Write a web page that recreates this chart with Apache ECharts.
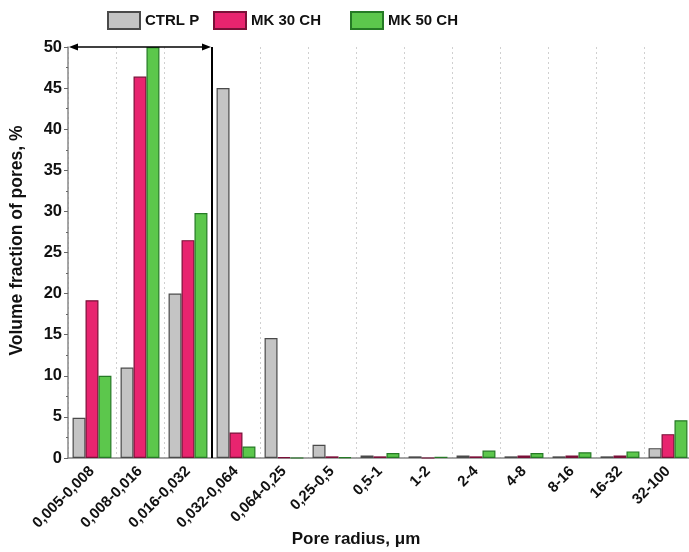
<!DOCTYPE html>
<html>
<head>
<meta charset="utf-8">
<script src="https://cdn.jsdelivr.net/npm/echarts@6/dist/echarts.min.js"></script>
<style>
  html, body { margin: 0; padding: 0; background: #fff; }
  #chart { width: 689px; height: 552px; }
</style>
</head>
<body>
<div id="chart"></div>
<script>
// pore radius classes, um
var categories = ['0,005-0,008', '0,008-0,016', '0,016-0,032', '0,032-0,064', '0,064-0,25', '0,25-0,5', '0,5-1', '1-2', '2-4', '4-8', '8-16', '16-32', '32-100'];
// volume fraction of pores, %
var ctrlP = [4.9, 11.0, 20.0, 45.0, 14.6, 1.6, 0.3, 0.2, 0.3, 0.2, 0.2, 0.2, 1.2];
var mk30 = [19.2, 46.4, 26.5, 3.1, 0.1, 0.2, 0.2, 0, 0.2, 0.3, 0.3, 0.3, 2.9];
var mk50 = [10.0, 50.0, 29.8, 1.4, 0, 0.1, 0.6, 0.15, 0.9, 0.6, 0.7, 0.8, 4.6];
var yTicks = [0, 50, 5];

var font = "'Liberation Sans', Arial, sans-serif";
var chart = echarts.init(document.getElementById('chart'));

function bar(name, data, color, border) {
    return {
        name: name,
        type: 'bar',
        data: data,
        barGap: '0%',
        barCategoryGap: '19%',
        itemStyle: { color: color, borderColor: border, borderWidth: 1.2 }
    };
}

function legendAt(name, left) {
    return {
        data: [name],
        left: left,
        top: 6,
        itemWidth: 32,
        itemHeight: 17,
        icon: 'rect',
        textStyle: { fontFamily: font, fontWeight: 'bold', fontSize: 15, color: '#111' }
    };
}

chart.setOption({
    animation: false,
    legend: [legendAt('CTRL P', 102), legendAt('MK 30 CH', 208), legendAt('MK 50 CH', 345)],
    grid: { left: 68, top: 47, bottom: 94, width: 624, outerBoundsMode: 'none', containLabel: false },
    xAxis: {
        type: 'category',
        data: categories,
        name: 'Pore radius, \u03bcm',
        nameLocation: 'middle',
        nameGap: 73,
        nameMoveOverlap: false,
        nameTextStyle: { fontFamily: font, fontWeight: 'bold', fontSize: 17, color: '#111', padding: [0, 48, 0, 0] },
        axisLine: { lineStyle: { color: '#888', width: 1.5 } },
        axisTick: { alignWithLabel: true, length: 4, lineStyle: { color: '#666' } },
        axisLabel: { rotate: 45, margin: 11, fontFamily: font, fontWeight: 'bold', fontSize: 15, color: '#111', interval: 0 },
        splitLine: { show: true, lineStyle: { color: '#d0d0d0', type: [2, 3], width: 1 } }
    },
    yAxis: {
        type: 'value',
        min: yTicks[0],
        max: yTicks[1],
        interval: yTicks[2],
        name: 'Volume fraction of pores, %',
        nameLocation: 'middle',
        nameGap: 42,
        nameMoveOverlap: false,
        nameTextStyle: { fontFamily: font, fontWeight: 'bold', fontSize: 17.5, color: '#111', padding: [0, 0, 0, 24] },
        axisLine: { show: true, lineStyle: { color: '#888', width: 1.5 } },
        axisTick: { show: true, length: 4, lineStyle: { color: '#666' } },
        minorTick: { show: true, splitNumber: 2, length: 2, lineStyle: { color: '#666' } },
        axisLabel: { margin: 6, fontFamily: font, fontWeight: 'bold', fontSize: 16.5, color: '#111' },
        splitLine: { show: false }
    },
    series: [
        bar('CTRL P', ctrlP, '#c4c4c4', '#4a4a4a'),
        bar('MK 30 CH', mk30, '#e8246f', '#7a1038'),
        bar('MK 50 CH', mk50, '#5cc74c', '#257a25')
    ]
});

// double arrow over the first three classes + vertical divider, placed from the axes
var c0 = chart.convertToPixel({ xAxisIndex: 0 }, categories[0]);
var c1 = chart.convertToPixel({ xAxisIndex: 0 }, categories[1]);
var c2 = chart.convertToPixel({ xAxisIndex: 0 }, categories[2]);
var c3 = chart.convertToPixel({ xAxisIndex: 0 }, categories[3]);
var half = (c1 - c0) / 2;
var xL = c0 - half;
var xR = (c2 + c3) / 2;
var yTop = chart.convertToPixel({ yAxisIndex: 0 }, yTicks[1]);
var yBot = chart.convertToPixel({ yAxisIndex: 0 }, yTicks[0]);
var ah = 9, aw = 3.5;

chart.setOption({
    graphic: [
        { type: 'line', shape: { x1: xR, y1: yTop, x2: xR, y2: yBot }, style: { stroke: '#000', lineWidth: 2 }, z: 10 },
        { type: 'line', shape: { x1: xL + 4, y1: yTop, x2: xR - 4, y2: yTop }, style: { stroke: '#000', lineWidth: 1.5 }, z: 10 },
        { type: 'polygon', shape: { points: [[xL + 1, yTop], [xL + 1 + ah, yTop - aw], [xL + 1 + ah, yTop + aw]] }, style: { fill: '#000' }, z: 10 },
        { type: 'polygon', shape: { points: [[xR - 1, yTop], [xR - 1 - ah, yTop - aw], [xR - 1 - ah, yTop + aw]] }, style: { fill: '#000' }, z: 10 }
    ]
});
</script>
</body>
</html>
